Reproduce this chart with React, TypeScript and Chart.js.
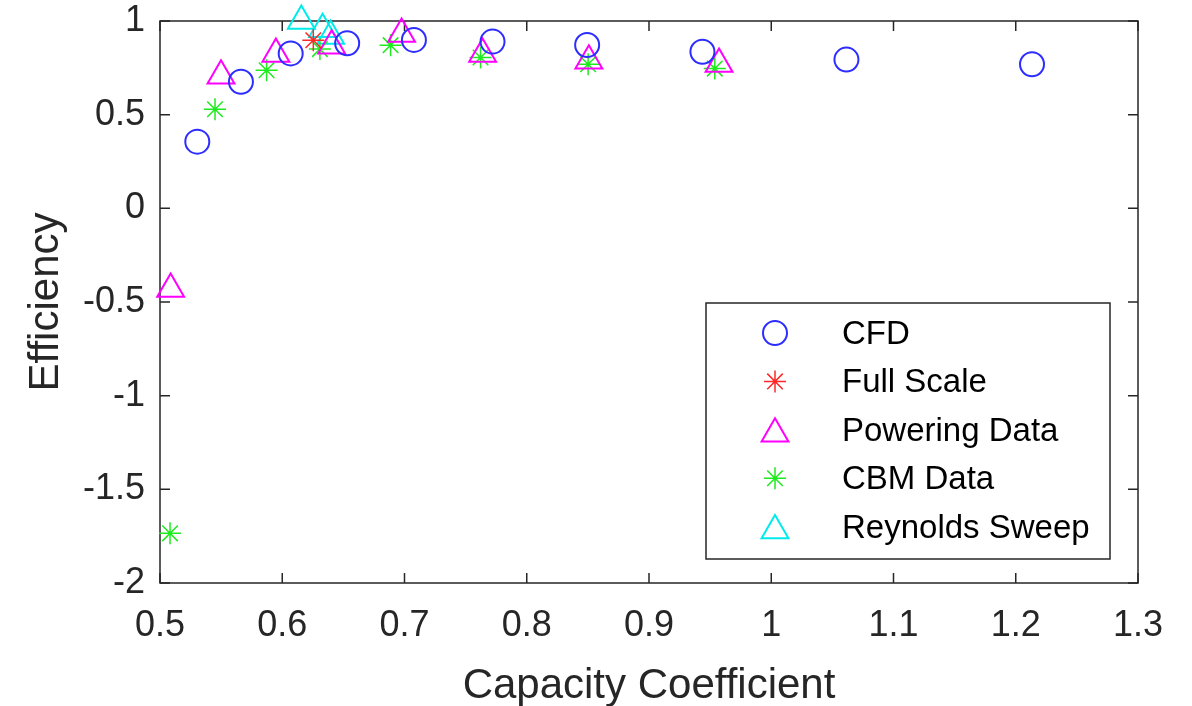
import React, { useEffect, useRef } from 'react';
import { Chart, registerables } from 'chart.js';
import { drawPoint } from 'chart.js/helpers';

Chart.register(...registerables);

// ---- data ----
const cfdX = [0.5305, 0.5662, 0.6069, 0.6531, 0.7077, 0.772, 0.8494, 0.9437, 1.0615, 1.2133];
const cfdY = [0.356, 0.676, 0.827, 0.881, 0.899, 0.89, 0.872, 0.836, 0.794, 0.769];

const fullScaleX = [0.6254];
const fullScaleY = [0.897];

const poweringX = [0.5087, 0.5499, 0.5948, 0.6404, 0.6976, 0.7639, 0.8508, 0.9573];
const poweringY = [-0.43, 0.708, 0.824, 0.868, 0.93, 0.824, 0.788, 0.77];

const cbmX = [0.5082, 0.545, 0.5872, 0.6308, 0.6886, 0.7622, 0.8502, 0.9538];
const cbmY = [-1.735, 0.529, 0.737, 0.85, 0.871, 0.805, 0.769, 0.746];

const reynoldsX = [0.6156, 0.633, 0.6396];
const reynoldsY = [1.0, 0.956, 0.92];

const xTicks = [0.5, 0.6, 0.7, 0.8, 0.9, 1, 1.1, 1.2, 1.3];
const yTicks = [-2, -1.5, -1, -0.5, 0, 0.5, 1];

const seriesLabels = ['CFD', 'Full Scale', 'Powering Data', 'CBM Data', 'Reynolds Sweep'];

const FONT = '"Liberation Sans", Arial, sans-serif';
const INK = 'rgb(38,38,38)';

const pts = (xs: number[], ys: number[]) => xs.map((x, i) => ({ x, y: ys[i] }));

const styles = [
  { pointStyle: 'circle', color: 'rgb(45,45,255)', radius: 12, width: 2 },
  { pointStyle: 'star', color: 'rgb(255,40,40)', radius: 11, width: 1.5 },
  { pointStyle: 'triangle', color: 'rgb(255,0,255)', radius: 15.5, width: 2 },
  { pointStyle: 'star', color: 'rgb(30,235,30)', radius: 11, width: 1.5 },
  { pointStyle: 'triangle', color: 'rgb(0,235,235)', radius: 15.5, width: 2 },
];

const framePlugin = {
  id: 'matlabFrame',
  beforeDatasetsDraw(chart: any) {
    const { ctx, chartArea, scales } = chart;
    const { left, right, top, bottom } = chartArea;
    ctx.save();
    ctx.strokeStyle = INK;
    ctx.lineWidth = 1.5;
    ctx.strokeRect(left, top, right - left, bottom - top);
    ctx.beginPath();
    const tl = 10;
    xTicks.forEach((v) => {
      const px = scales.x.getPixelForValue(v);
      ctx.moveTo(px, bottom);
      ctx.lineTo(px, bottom - tl);
      ctx.moveTo(px, top);
      ctx.lineTo(px, top + tl);
    });
    yTicks.forEach((v) => {
      const py = scales.y.getPixelForValue(v);
      ctx.moveTo(left, py);
      ctx.lineTo(left + tl, py);
      ctx.moveTo(right, py);
      ctx.lineTo(right - tl, py);
    });
    ctx.stroke();
    ctx.restore();
  },
};

const legendPlugin = {
  id: 'boxLegend',
  afterDatasetsDraw(chart: any) {
    const { ctx, chartArea } = chart;
    const boxW = 404;
    const boxH = 256;
    const bx = chartArea.right - 432;
    const by = chartArea.top + 282;
    ctx.save();
    ctx.fillStyle = '#ffffff';
    ctx.fillRect(bx, by, boxW, boxH);
    ctx.strokeStyle = INK;
    ctx.lineWidth = 1.5;
    ctx.strokeRect(bx, by, boxW, boxH);
    const step = 48.4;
    chart.data.datasets.forEach((ds: any, i: number) => {
      const rowY = by + 30 + i * step;
      const st = styles[i];
      ctx.strokeStyle = st.color;
      ctx.fillStyle = 'rgba(0,0,0,0)';
      ctx.lineWidth = st.width;
      const dy = st.pointStyle === 'triangle' ? st.radius / 4 : 0;
      drawPoint(ctx, { pointStyle: st.pointStyle, radius: st.radius, rotation: 0, borderWidth: st.width }, bx + 69, rowY + dy);
      ctx.fillStyle = '#000000';
      ctx.font = `33px ${FONT}`;
      ctx.textBaseline = 'middle';
      ctx.textAlign = 'left';
      ctx.fillText(ds.label, bx + 136, rowY + 2);
    });
    ctx.restore();
  },
};

const numFmt = (v: any) => String(Number(Number(v).toFixed(2)));

export default function App() {
  const ref = useRef<HTMLCanvasElement | null>(null);

  useEffect(() => {
    if (!ref.current) return;
    const allX = [cfdX, fullScaleX, poweringX, cbmX, reynoldsX];
    const allY = [cfdY, fullScaleY, poweringY, cbmY, reynoldsY];
    const chart = new Chart(ref.current, {
      type: 'scatter',
      data: {
        datasets: seriesLabels.map((label, i) => ({
          label,
          data: pts(allX[i], allY[i]),
          pointStyle: styles[i].pointStyle as any,
          pointRadius: styles[i].radius,
          pointHoverRadius: styles[i].radius,
          pointBorderWidth: styles[i].width,
          borderColor: styles[i].color,
          pointBorderColor: styles[i].color,
          backgroundColor: 'rgba(0,0,0,0)',
          pointBackgroundColor: 'rgba(0,0,0,0)',
          showLine: false,
          clip: false as any,
        })),
      },
      options: {
        responsive: false,
        animation: false,
        events: [],
        layout: { padding: { left: 0, top: 21, right: 54, bottom: 0 } },
        plugins: {
          legend: { display: false },
          tooltip: { enabled: false },
        },
        scales: {
          x: {
            type: 'linear',
            min: 0.5,
            max: 1.3,
            afterBuildTicks: (s: any) => {
              s.ticks = xTicks.map((v) => ({ value: v }));
            },
            afterFit: (s: any) => {
              s.height = 123;
              s.paddingLeft = 0;
              s.paddingRight = 0;
            },
            grid: { display: false, drawTicks: false },
            border: { display: false },
            ticks: {
              callback: numFmt,
              color: INK,
              font: { family: FONT, size: 36 },
              padding: 21,
              maxRotation: 0,
              autoSkip: false,
            },
            title: {
              display: true,
              text: 'Capacity Coefficient',
              color: INK,
              font: { family: FONT, size: 42 },
              padding: { top: 0, bottom: -6 },
            },
          },
          y: {
            type: 'linear',
            min: -2,
            max: 1,
            afterBuildTicks: (s: any) => {
              s.ticks = yTicks.map((v) => ({ value: v }));
            },
            afterFit: (s: any) => {
              s.width = 160;
              s.paddingTop = 0;
              s.paddingBottom = 0;
            },
            grid: { display: false, drawTicks: false },
            border: { display: false },
            ticks: {
              callback: numFmt,
              color: INK,
              font: { family: FONT, size: 36 },
              padding: 15,
              autoSkip: false,
            },
            title: {
              display: true,
              text: 'Efficiency',
              color: INK,
              font: { family: FONT, size: 42 },
              padding: { top: 21, bottom: 0 },
            },
          },
        },
      },
      plugins: [framePlugin, legendPlugin],
    });
    return () => chart.destroy();
  }, []);

  return (
    <div style={{ position: 'absolute', left: 0, top: 0, width: 1192, height: 706, background: '#fff' }}>
      <canvas ref={ref} width={1192} height={706} style={{ display: 'block' }} />
    </div>
  );
}
